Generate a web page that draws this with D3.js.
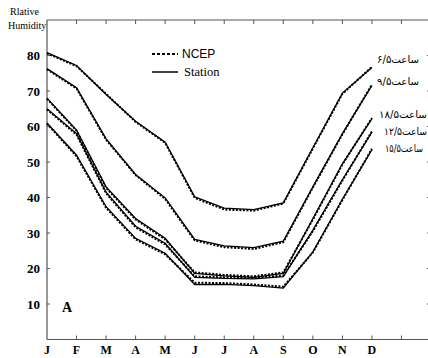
<!DOCTYPE html>
<html><head><meta charset="utf-8">
<script src="https://cdn.jsdelivr.net/npm/d3@7"></script>
<style>body{margin:0;background:#fff}svg{display:block}</style>
</head><body>
<svg id="c" width="428" height="358"></svg>
<script>
const months = ["J","F","M","A","M","J","J","A","S","O","N","D"];
const yTicks = [10,20,30,40,50,60,70,80];
const seriesLabels = ["ساعت۶/۵","ساعت۹/۵","ساعت۱۸/۵","ساعت۱۲/۵","ساعت۱۵/۵"];
const station65  = [80.8,77.2,69.0,61.5,55.6,40.2,37.0,36.6,38.5,54.0,69.4,76.6];
const station95  = [76.3,70.9,56.5,46.5,39.9,28.2,26.4,25.9,27.7,43.0,58.0,71.6];
const station185 = [68.0,59.0,43.0,34.1,28.5,18.6,17.9,17.5,18.6,34.0,49.5,62.2];
const station125 = [65.0,58.0,41.5,31.9,27.1,17.5,17.2,17.1,17.7,30.8,45.0,58.4];
const station155 = [61.0,51.9,37.4,28.5,24.3,15.5,15.5,15.2,14.5,24.7,39.5,53.5];
const ncep65  = [80.6,77.0,69.2,61.3,55.4,39.9,36.6,36.3,38.3,53.8,69.2,76.8];
const ncep95  = [76.1,70.7,56.3,46.3,39.6,27.9,26.0,25.5,27.4,42.8,57.8,71.8];
const ncep185 = [67.8,58.8,42.7,33.8,28.2,18.9,18.2,17.8,18.9,33.8,49.3,62.4];
const ncep125 = [64.8,57.7,41.2,31.6,26.8,17.8,17.5,17.4,18.0,30.5,44.8,58.6];
const ncep155 = [60.8,51.6,37.1,28.2,24.0,16.0,15.9,15.5,14.9,24.5,39.3,53.7];
const labelValues = [78.0, 71.6, 62.3, 57.5, 52.7];

const svg = d3.select("#c");
const x = d3.scaleLinear().domain([0,13]).range([47,431]);
const y = d3.scaleLinear().domain([0,90]).range([339.5,20]);
const axisColor = "#555";

// frame
svg.append("line").attr("x1",x(0)).attr("x2",x(13)).attr("y1",y(0)).attr("y2",y(0)).attr("stroke",axisColor).attr("stroke-width",1.2);
svg.append("line").attr("x1",x(0)).attr("x2",x(13)).attr("y1",y(90)).attr("y2",y(90)).attr("stroke",axisColor).attr("stroke-width",1.2);
svg.append("line").attr("x1",x(0)).attr("x2",x(0)).attr("y1",y(0)).attr("y2",y(90)).attr("stroke",axisColor).attr("stroke-width",1.2);
svg.append("line").attr("x1",x(13)).attr("x2",x(13)).attr("y1",y(0)).attr("y2",y(90)).attr("stroke",axisColor).attr("stroke-width",1.2);

const idx = d3.range(1,13);
svg.selectAll(".tb").data(idx).join("line").attr("x1",d=>x(d)).attr("x2",d=>x(d)).attr("y1",y(0)).attr("y2",y(0)-4).attr("stroke",axisColor);
svg.selectAll(".tt").data(idx).join("line").attr("x1",d=>x(d)).attr("x2",d=>x(d)).attr("y1",y(90)).attr("y2",y(90)+4).attr("stroke",axisColor);
svg.selectAll(".tl").data(yTicks).join("line").attr("x1",x(0)).attr("x2",x(0)+3).attr("y1",d=>y(d)).attr("y2",d=>y(d)).attr("stroke",axisColor);
svg.selectAll(".tr").data(yTicks).join("line").attr("x1",x(13)).attr("x2",x(13)-4).attr("y1",d=>y(d)).attr("y2",d=>y(d)).attr("stroke",axisColor);

svg.selectAll(".ml").data(months).join("text")
  .attr("x",(d,i)=>x(i)).attr("y",354).attr("text-anchor","middle")
  .attr("font-family","Liberation Serif").attr("font-weight","bold").attr("font-size",12).text(d=>d);
svg.selectAll(".yl").data(yTicks).join("text")
  .attr("x",40).attr("y",d=>y(d)+4.5).attr("text-anchor","end")
  .attr("font-family","Liberation Serif").attr("font-weight","bold").attr("font-size",13).text(d=>d);

svg.append("text").attr("x",10).attr("y",15).attr("font-family","Liberation Serif").attr("font-size",10).text("Rlative");
svg.append("text").attr("x",8).attr("y",29).attr("font-family","Liberation Serif").attr("font-size",10).text("Humidity");
svg.append("text").attr("x",62).attr("y",312).attr("font-family","Liberation Serif").attr("font-weight","bold").attr("font-size",14).text("A");

const line = d3.line().x((d,i)=>x(i)).y(d=>y(d));
const stations = [station65,station95,station185,station125,station155];
const nceps = [ncep65,ncep95,ncep185,ncep125,ncep155];
stations.forEach(s=>svg.append("path").attr("d",line(s)).attr("fill","none").attr("stroke","#000").attr("stroke-width",1.3));
nceps.forEach(s=>svg.append("path").attr("d",line(s)).attr("fill","none").attr("stroke","#000").attr("stroke-width",2).attr("stroke-dasharray","2,1.5"));

// legend
svg.append("line").attr("x1",152).attr("x2",178).attr("y1",54).attr("y2",54).attr("stroke","#000").attr("stroke-width",2).attr("stroke-dasharray","3,2");
svg.append("text").attr("x",182).attr("y",58).attr("font-family","Liberation Sans").attr("font-size",12).text("NCEP");
svg.append("line").attr("x1",152).attr("x2",178).attr("y1",72).attr("y2",72).attr("stroke","#000").attr("stroke-width",1.5);
svg.append("text").attr("x",184).attr("y",76).attr("font-family","Liberation Serif").attr("font-size",12.5).text("Station");

// series labels
const lx = [377,377,379,384,385], lw = [42,42,48,43,38];
svg.selectAll(".sl").data(seriesLabels).join("text")
  .attr("x",(d,i)=>lx[i]).attr("y",(d,i)=>y(labelValues[i]))
  .attr("textLength",(d,i)=>lw[i]).attr("lengthAdjust","spacingAndGlyphs")
  .attr("font-family","DejaVu Sans").attr("font-size",10).text(d=>d);
</script>
</body></html>
